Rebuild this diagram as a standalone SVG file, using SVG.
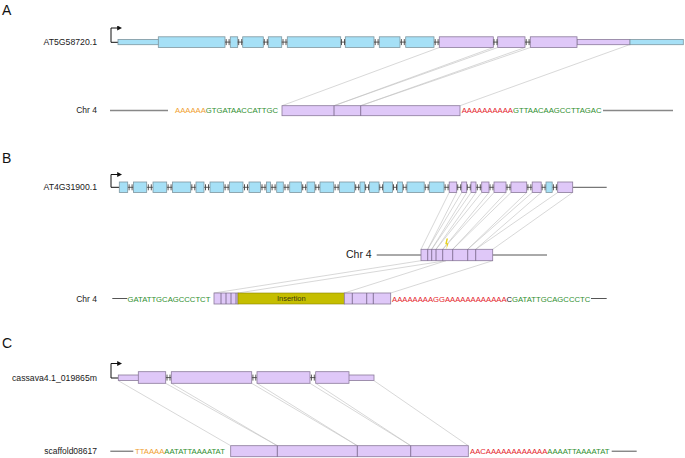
<svg xmlns="http://www.w3.org/2000/svg" width="685" height="458" viewBox="0 0 685 458">
<style>
text{font-family:"Liberation Sans",Arial,sans-serif}
.lbl{font-size:8.7px;fill:#1a1a1a;text-anchor:end}
.pl{font-size:14px;fill:#111}
.seq{font-size:7.7px}
.g{fill:#2f8f2f}.o{fill:#f0a030}.r{fill:#e4232b}.k{fill:#222}
.bl{fill:#a6e0f6;stroke:#7e96a0;stroke-width:0.8}
.pu{fill:#dfc8f8;stroke:#8a7a9a;stroke-width:0.8}
.ins{fill:#c5be00;stroke:#8a8400;stroke-width:0.6}
.dv{stroke:#6e5f7e;stroke-width:0.8;fill:none}
.hh{stroke:#444;stroke-width:0.9;fill:none}
.chr{stroke:#888;stroke-width:1.5;fill:none}
.chr2{stroke:#555;stroke-width:1;fill:none}
.tss{stroke:#111;stroke-width:1;fill:none}
.cn{stroke:#bdbdbd;stroke-width:0.6;fill:none}
</style>
<defs>
<marker id="ah" viewBox="0 0 6 6" refX="1" refY="3" markerWidth="5" markerHeight="5" orient="auto" markerUnits="userSpaceOnUse"><path d="M0 0L6 3L0 6z" fill="#111"/></marker>
</defs>

<text class="pl" x="2" y="15">A</text>
<text class="pl" x="2" y="162.5">B</text>
<text class="pl" x="2" y="347.5">C</text>

<g id="connectors">
<path class="cn" d="M439.3 47.5L282 105.7M493.3 47.5L334 105.7M497.7 47.5L334 105.7M525 47.5L360.7 105.7M530.3 47.5L360.7 105.7M630 44.5L460 105.7"/>
<path class="cn" d="M449.2 192.5L421 249.3M456.7 192.5L427.7 249.3M461.7 192.5L427.7 249.3M466.7 192.5L431.7 249.3M471 192.5L431.7 249.3M476 192.5L436 249.3M481.7 192.5L436 249.3M489 192.5L442.7 249.3M494 192.5L442.7 249.3M506 192.5L452.7 249.3M511 192.5L452.7 249.3M526.7 192.5L467.7 249.3M532.2 192.5L467.7 249.3M541.2 192.5L475.7 249.3M557.7 192.5L475.7 249.3M572.7 192.5L492.7 249.3"/>
<path class="cn" d="M421 260.7L214 293M446 260.7L238 293M446 260.7L344.3 293M492.7 260.7L390.7 293"/>
<path class="cn" d="M118.3 380.7L230.7 445.7M165.7 383.3L277.3 445.7M171.3 383.3L277.3 445.7M251.7 383.3L357.3 445.7M257 383.3L357.3 445.7M310 383.3L410.7 445.7M315.7 383.3L410.7 445.7M374 380.7L468.3 445.7"/>
</g>

<g id="geneA">
<text class="lbl" x="97" y="45.3">AT5G58720.1</text>
<path class="tss" d="M118 42.3H111V28H118" marker-end="url(#ah)"/>
<rect class="bl" x="118" y="39.5" width="41" height="5.2"/>
<rect class="bl" x="158.3" y="36.8" width="66.7" height="10.6"/>
<rect class="bl" x="230.3" y="36.8" width="7.4" height="10.6"/>
<rect class="bl" x="242.7" y="36.8" width="20.6" height="10.6"/>
<rect class="bl" x="268.3" y="36.8" width="13.4" height="10.6"/>
<rect class="bl" x="287.3" y="36.8" width="53.4" height="10.6"/>
<rect class="bl" x="345.3" y="36.8" width="28.7" height="10.6"/>
<rect class="bl" x="379.3" y="36.8" width="20.7" height="10.6"/>
<rect class="bl" x="405.7" y="36.8" width="28.3" height="10.6"/>
<rect class="pu" x="439.3" y="36.8" width="54" height="10.6"/>
<rect class="pu" x="497.7" y="36.8" width="27.3" height="10.6"/>
<rect class="pu" x="577" y="39.5" width="53" height="5.2"/>
<rect class="pu" x="530.3" y="36.8" width="46.7" height="10.6"/>
<rect class="bl" x="630" y="39.5" width="53.3" height="5.2"/>
<path class="hh" d="M225 42.1H230.3M226.2 39.1v6M229.1 39.1v6M237.7 42.1H242.7M238.7 39.1v6M241.7 39.1v6M263.3 42.1H268.3M264.3 39.1v6M267.3 39.1v6M281.7 42.1H287.3M283 39.1v6M286 39.1v6M340.7 42.1H345.3M341.5 39.1v6M344.5 39.1v6M374 42.1H379.3M375.2 39.1v6M378.1 39.1v6M400 42.1H405.7M401.4 39.1v6M404.3 39.1v6M434 42.1H439.3M435.2 39.1v6M438.1 39.1v6M493.3 42.1H497.7M494 39.1v6M497 39.1v6M525 42.1H530.3M526.2 39.1v6M529.1 39.1v6"/>
</g>

<g id="chrA">
<text class="lbl" x="97" y="113.3" style="font-size:8.5px">Chr 4</text>
<path class="chr" d="M110 110.5H168M603 110.5H673"/>
<text class="seq" x="175" y="113.3"><tspan class="o">AAAAAA</tspan><tspan class="g">GTGATAACCATTGC</tspan></text>
<rect class="pu" x="282" y="105.7" width="178" height="10"/>
<path class="dv" d="M334 105.7v10M360.7 105.7v10"/>
<text class="seq" x="461.7" y="113.3"><tspan class="r">AAAAAAAAAA</tspan><tspan class="g">GTTAACAAGCCTTAGAC</tspan></text>
</g>

<g id="geneB">
<text class="lbl" x="97" y="189.8">AT4G31900.1</text>
<path class="tss" d="M119.3 187.3H111V174.5H118" marker-end="url(#ah)"/>
<path class="chr2" d="M572.7 187.3H606.7"/>
<path class="hh" d="M127.7 187.3H133.5M129.1 184.3v6M132.1 184.3v6M146.7 187.3H153M148.3 184.3v6M151.3 184.3v6M166.7 187.3H172.5M168.1 184.3v6M171.1 184.3v6M190.7 187.3H196M191.8 184.3v6M194.8 184.3v6M204 187.3H210M205.5 184.3v6M208.5 184.3v6M223.7 187.3H229.5M225.1 184.3v6M228.1 184.3v6M243 187.3H249M244.5 184.3v6M247.5 184.3v6M260.5 187.3H266.5M262 184.3v6M265 184.3v6M270.5 187.3H276.7M272.1 184.3v6M275.1 184.3v6M283.3 187.3H289.7M285 184.3v6M288 184.3v6M301.5 187.3H307M302.7 184.3v6M305.7 184.3v6M314.7 187.3H320M315.8 184.3v6M318.8 184.3v6M333.7 187.3H339.5M335.1 184.3v6M338.1 184.3v6M354.5 187.3H360M355.7 184.3v6M358.7 184.3v6M364.7 187.3H369.5M365.6 184.3v6M368.6 184.3v6M379 187.3H383.3M379.7 184.3v6M382.6 184.3v6M392.5 187.3H397.5M393.5 184.3v6M396.5 184.3v6M402.5 187.3H407M403.2 184.3v6M406.2 184.3v6M424.2 187.3H429.3M425.2 184.3v6M428.2 184.3v6M444 187.3H449.2M445.1 184.3v6M448.1 184.3v6M456.7 187.3H461.7M457.7 184.3v6M460.7 184.3v6M466.7 187.3H471M467.3 184.3v6M470.3 184.3v6M476 187.3H481.7M477.3 184.3v6M480.3 184.3v6M489 187.3H494M490 184.3v6M493 184.3v6M506 187.3H511M507 184.3v6M510 184.3v6M526.7 187.3H532.2M527.9 184.3v6M530.9 184.3v6M541.2 187.3H546M542.1 184.3v6M545.1 184.3v6M552.2 187.3H557.7M553.4 184.3v6M556.4 184.3v6"/>
<rect class="bl" x="119.3" y="182" width="8.4" height="10.5"/>
<rect class="bl" x="133.5" y="182" width="13.2" height="10.5"/>
<rect class="bl" x="153" y="182" width="13.7" height="10.5"/>
<rect class="bl" x="172.5" y="182" width="18.2" height="10.5"/>
<rect class="bl" x="196" y="182" width="8" height="10.5"/>
<rect class="bl" x="210" y="182" width="13.7" height="10.5"/>
<rect class="bl" x="229.5" y="182" width="13.5" height="10.5"/>
<rect class="bl" x="249" y="182" width="11.5" height="10.5"/>
<rect class="bl" x="266.5" y="182" width="4" height="10.5"/>
<rect class="bl" x="276.7" y="182" width="6.6" height="10.5"/>
<rect class="bl" x="289.7" y="182" width="11.8" height="10.5"/>
<rect class="bl" x="307" y="182" width="7.7" height="10.5"/>
<rect class="bl" x="320" y="182" width="13.7" height="10.5"/>
<rect class="bl" x="339.5" y="182" width="15" height="10.5"/>
<rect class="bl" x="360" y="182" width="4.7" height="10.5"/>
<rect class="bl" x="369.5" y="182" width="9.5" height="10.5"/>
<rect class="bl" x="383.3" y="182" width="9.2" height="10.5"/>
<rect class="bl" x="397.5" y="182" width="5" height="10.5"/>
<rect class="bl" x="407" y="182" width="17.2" height="10.5"/>
<rect class="bl" x="429.3" y="182" width="14.7" height="10.5"/>
<rect class="pu" x="449.2" y="182" width="7.5" height="10.5"/>
<rect class="pu" x="461.7" y="182" width="5" height="10.5"/>
<rect class="pu" x="471" y="182" width="5" height="10.5"/>
<rect class="pu" x="481.7" y="182" width="7.3" height="10.5"/>
<rect class="pu" x="494" y="182" width="12" height="10.5"/>
<rect class="pu" x="511" y="182" width="15.7" height="10.5"/>
<rect class="pu" x="532.2" y="182" width="9" height="10.5"/>
<rect class="bl" x="546" y="182" width="6.2" height="10.5"/>
<rect class="pu" x="557.7" y="182" width="15" height="10.5"/>
</g>

<g id="chrB-mid">
<text x="371.7" y="258" style="font-size:10.5px;fill:#1a1a1a;text-anchor:end">Chr 4</text>
<path class="chr2" d="M376.7 255H421M492.7 255H547"/>
<rect class="pu" x="421" y="249.3" width="71.7" height="11.4"/>
<path class="dv" d="M427.7 249.3v11.4M431.7 249.3v11.4M436 249.3v11.4M442.7 249.3v11.4M452.7 249.3v11.4M467.7 249.3v11.4M475.7 249.3v11.4"/>
<path d="M446.5 238.5L445.2 244.2L447 244.2L446.3 249.6L448.6 243.2L446.9 243.2L448 238.5Z" fill="#e6d21c"/>
</g>

<g id="chrB">
<text class="lbl" x="97" y="301.5" style="font-size:8.5px">Chr 4</text>
<path class="chr2" d="M112.3 298.5H127.3M591 298.5H606.7"/>
<text class="seq g" x="127.5" y="301.5">GATATTGCAGCCCTCT</text>
<rect class="pu" x="214" y="293" width="24" height="11"/>
<path class="dv" d="M221 293v11M226 293v11M231 293v11M236 293v11"/>
<rect class="ins" x="238" y="293" width="106.3" height="11"/>
<text x="291.3" y="301" style="font-size:7.5px;fill:#3a3a10;text-anchor:middle">Insertion</text>
<rect class="pu" x="344.3" y="293" width="46.4" height="11"/>
<path class="dv" d="M352.3 293v11M366.7 293v11M373.3 293v11"/>
<text class="seq" x="392" y="301.5"><tspan class="r">AAAAAAAAGGAAAAAAAAAAAA</tspan><tspan class="k">C</tspan><tspan class="g">GATATTGCAGCCCTC</tspan></text>
</g>

<g id="geneC">
<text class="lbl" x="97" y="380.5">cassava4.1_019865m</text>
<path class="tss" d="M118.3 378H111V363.5H118" marker-end="url(#ah)"/>
<path class="hh" d="M165.7 377.6H171.3M167 374.6v6M170 374.6v6M251.7 377.6H257M252.9 374.6v6M255.8 374.6v6M310 377.6H315.7M311.4 374.6v6M314.3 374.6v6"/>
<rect class="pu" x="118.3" y="375" width="21" height="5.5"/>
<rect class="pu" x="138.3" y="371.7" width="27.4" height="11.6"/>
<rect class="pu" x="171.3" y="371.7" width="80.4" height="11.6"/>
<rect class="pu" x="257" y="371.7" width="53" height="11.6"/>
<rect class="pu" x="348" y="375" width="26" height="5.5"/>
<rect class="pu" x="315.7" y="371.7" width="33.3" height="11.6"/>
</g>

<g id="scaffoldC">
<text class="lbl" x="97" y="454" style="font-size:8.5px">scaffold08617</text>
<path class="chr2" d="M110.3 451.2H133.3M611.7 451.2H636.7"/>
<text class="seq" x="135" y="454"><tspan class="o">TTAAAA</tspan><tspan class="g">AATATTAAAATAT</tspan></text>
<rect class="pu" x="230.7" y="445.7" width="237.6" height="11"/>
<path class="dv" d="M277.3 445.7v11M357.3 445.7v11M410.7 445.7v11"/>
<text class="seq" x="470" y="454"><tspan class="r">AACAAAAAAAAAAAA</tspan><tspan class="g">AAAATTAAAATAT</tspan></text>
</g>
</svg>
